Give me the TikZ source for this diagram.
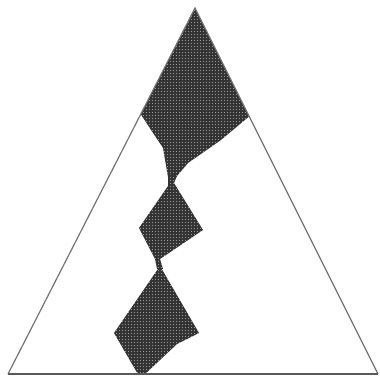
\documentclass[tikz,border=0pt]{standalone}
\usetikzlibrary{patterns}
\pgfdeclarepatternformonly{stippledots}{\pgfpointorigin}{\pgfqpoint{3.4pt}{3.4pt}}%
  {\pgfqpoint{3.4pt}{3.4pt}}%
  {\pgfpathcircle{\pgfqpoint{1.7pt}{1.7pt}}{0.55pt}\pgfusepath{fill}}
\begin{document}
\begin{tikzpicture}[x=1pt,y=-1pt,
  stipple/.style={fill=black!80, postaction={pattern=stippledots, pattern color=white!75!black}}]
  \useasboundingbox (0,0) rectangle (380,377);
  \begin{scope}
    \clip (195,8) -- (8,374) -- (378,374) -- cycle;
    % upper lobe
    \fill[stipple] (195,0) -- (252,114) -- (221,140) -- (188,163) -- (177,176)
      -- (168,177) -- (163,148) -- (153,133) -- (138,110) -- cycle;
    % middle lobe
    \fill[stipple] (168,174) -- (177,176) -- (174,183) -- (203,230) -- (160,259)
      -- (163,269) -- (157,269) -- (155,259) -- (139,228) -- (168,186) -- cycle;
    % lower lobe
    \fill[stipple] (160,266) -- (199,333) -- (177,344) -- (143,376)
      -- (139,376) -- (114,333) -- cycle;
  \end{scope}
  \draw[black!55, line width=1.2pt] (8,374) -- (195,8) -- (378,374);
  \draw[black!65, line width=1.6pt] (8,374) -- (378,374);
\end{tikzpicture}
\end{document}
